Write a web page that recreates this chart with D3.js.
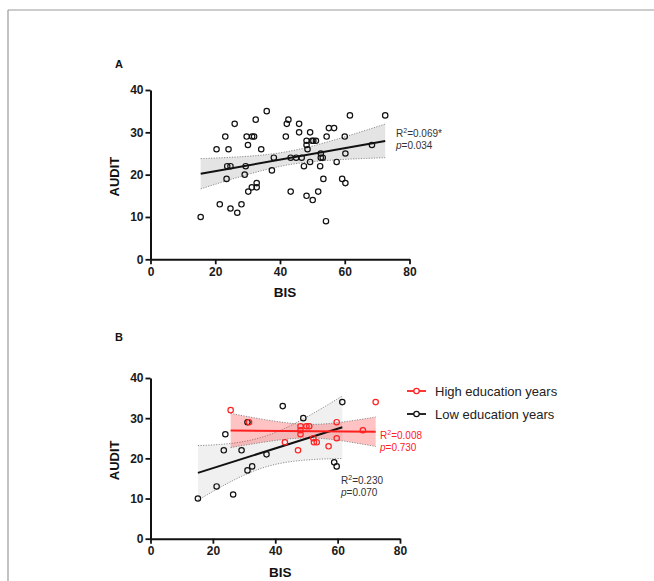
<!DOCTYPE html>
<html><head><meta charset="utf-8">
<script src="https://cdn.jsdelivr.net/npm/d3@7"></script>
<style>
html,body{margin:0;padding:0;background:#fff;}
svg{display:block;font-family:"Liberation Sans",Arial,Helvetica,sans-serif;}
</style></head>
<body>
<svg id="c" width="654" height="581"></svg>
<script>
// ---- Data ----
const bisA   = [15.5,20.4,21.4,23.1,24.1,23.7,24.7,23.5,24.7,26.0,26.8,28.1,29.1,29.4,29.7,30.1,30.2,31.3,31.4,32.0,32.5,32.8,32.8,34.2,35.9,37.5,38.1,41.8,42.1,42.6,43.3,43.3,45.0,45.9,45.9,46.7,47.4,48.2,48.2,48.2,48.5,49.3,49.3,49.9,50.1,50.3,51.1,51.8,52.4,52.6,52.6,53.2,53.4,54.2,54.4,55.1,56.7,57.5,59.2,60.0,60.2,60.2,61.6,68.4,72.5];
const auditA = [10,26,13,29,26,22,22,19,12,32,11,13,20,22,29,27,16,17,29,29,33,18,17,26,35,21,24,29,32,33,16,24,24,32,30,24,22,15,28,27,26,30,23,28,14,28,28,16,22,25,24,24,19,9,29,31,31,23,19,29,25,18,34,27,34];

const bisLow    = [15.2,21.2,23.5,24.0,26.5,29.2,31.1,31.1,32.6,37.2,42.4,49.0,58.9,59.7,61.5];
const auditLow  = [10,13,22,26,11,22,29,17,18,21,33,30,19,18,34];
const bisHigh   = [25.7,31.6,43.1,47.3,48.1,48.1,48.1,50.0,50.9,52.2,52.4,53.3,57.1,59.7,59.7,68.1,72.2];
const auditHigh = [32,29,24,22,28,27,26,28,28,25,24,24,23,29,25,27,34];

const xTicks = [0,20,40,60,80];
const yTicks = [0,10,20,30,40];
const statsA    = ["0.069*", "0.034"];
const statsHigh = ["0.008", "0.730"];
const statsLow  = ["0.230", "0.070"];
const legendLabels = ["High education years", "Low education years"];

// ---- Helpers ----
const svg = d3.select("#c");
const RED = "#ff2020", BLK = "#111";

// frame lines
svg.append("line").attr("x1",8).attr("x2",654).attr("y1",10).attr("y2",10).attr("stroke","#9a9a9a").attr("stroke-width",1.2);
svg.append("line").attr("x1",8).attr("x2",8).attr("y1",10).attr("y2",581).attr("stroke","#9a9a9a").attr("stroke-width",1.2);

function fit(xs, ys, t){
  const n = xs.length, mx = d3.mean(xs), my = d3.mean(ys);
  let sxx=0, sxy=0;
  xs.forEach((x,i)=>{sxx+=(x-mx)*(x-mx); sxy+=(x-mx)*(ys[i]-my);});
  const b = sxy/sxx, a = my - b*mx;
  let sse=0; xs.forEach((x,i)=>{const r=ys[i]-(a+b*x); sse+=r*r;});
  const s = Math.sqrt(sse/(n-2));
  const x0 = d3.min(xs), x1 = d3.max(xs);
  const grid = d3.range(0,61).map(k=>x0+(x1-x0)*k/60);
  const band = grid.map(x=>{const yh=a+b*x, h=t*s*Math.sqrt(1/n+(x-mx)*(x-mx)/sxx); return {x, yh, lo:yh-h, hi:yh+h};});
  return {a,b,x0,x1,band};
}

function panel(cfg){
  const g = svg.append("g");
  const x = d3.scaleLinear().domain([0,80]).range(cfg.xr);
  const y = d3.scaleLinear().domain([0,40]).range(cfg.yr);

  // bands
  cfg.series.forEach(s=>{
    const f = s.f;
    g.append("path").datum(f.band)
      .attr("d", d3.area().x(d=>x(d.x)).y0(d=>y(d.lo)).y1(d=>y(d.hi)))
      .attr("fill", s.bandFill).attr("stroke","none");
    ["lo","hi"].forEach(k=>{
      g.append("path").datum(f.band)
        .attr("d", d3.line().x(d=>x(d.x)).y(d=>y(d[k])))
        .attr("fill","none").attr("stroke","#808080").attr("stroke-width",0.9).attr("stroke-dasharray","1.2,1.4");
    });
  });
  // axes
  const ax = g.append("g").attr("transform",`translate(0,${cfg.yr[0]})`)
    .call(d3.axisBottom(x).tickValues(xTicks).tickSize(5).tickSizeOuter(0).tickPadding(3));
  const ay = g.append("g").attr("transform",`translate(${cfg.xr[0]},0)`)
    .call(d3.axisLeft(y).tickValues(yTicks).tickSize(5).tickSizeOuter(0).tickPadding(2));
  [ax,ay].forEach(a=>{
    a.select(".domain").attr("stroke","#111").attr("stroke-width",2);
    a.selectAll(".tick line").attr("stroke","#111").attr("stroke-width",1.8);
    a.selectAll(".tick text").attr("fill","#1a1a1a").attr("font-size",12).attr("font-weight","bold").attr("font-family","Liberation Sans, Arial, sans-serif");
  });
  // fit lines
  cfg.series.forEach(s=>{
    const f = s.f;
    g.append("line").attr("x1",x(f.x0)).attr("x2",x(f.x1))
      .attr("y1",y(f.a+f.b*f.x0)).attr("y2",y(f.a+f.b*f.x1))
      .attr("stroke",s.color).attr("stroke-width",2);
  });
  // points
  cfg.series.forEach(s=>{
    g.selectAll(null).data(s.xs.map((v,i)=>[v,s.ys[i]])).enter().append("circle")
      .attr("cx",d=>x(d[0])).attr("cy",d=>y(d[1])).attr("r",2.7)
      .attr("fill","none").attr("stroke",s.color).attr("stroke-width",1.2);
  });
  // labels
  g.append("text").attr("x",cfg.xr[0]-36).attr("y",(cfg.yr[0]+cfg.yr[1])/2+2)
    .attr("transform",`rotate(-90,${cfg.xr[0]-36},${(cfg.yr[0]+cfg.yr[1])/2+2})`)
    .attr("text-anchor","middle").attr("dominant-baseline","central")
    .attr("font-size",13).attr("font-weight","bold").attr("fill","#111").text("AUDIT");
  g.append("text").attr("x",(cfg.xr[0]+cfg.xr[1])/2+5).attr("y",cfg.yr[0]+38)
    .attr("text-anchor","middle").attr("font-size",13.5).attr("font-weight","bold").attr("fill","#111").text("BIS");
  g.append("text").attr("x",115).attr("y",cfg.labelY).attr("font-size",11).attr("font-weight","bold").attr("fill","#111").text(cfg.label);
  return {x,y,g};
}

function stat(g, x0, yb, vals, color){
  const t1 = g.append("text").attr("x",x0).attr("y",yb).attr("font-size",10).attr("fill",color);
  t1.append("tspan").text("R");
  t1.append("tspan").attr("font-size",7).attr("dy",-4).text("2");
  t1.append("tspan").attr("dy",4).text("=" + vals[0]);
  const t2 = g.append("text").attr("x",x0).attr("y",yb+12).attr("font-size",10).attr("fill",color);
  t2.append("tspan").attr("font-style","italic").text("p");
  t2.append("tspan").text("=" + vals[1]);
}

// Panel A
const fA = fit(bisA, auditA, 2.0);
const pA = panel({xr:[150.5,409.5], yr:[259.3,90], label:"A", labelY:68,
  series:[{xs:bisA, ys:auditA, f:fA, color:BLK, bandFill:"#e4e4e4"}]});
stat(pA.g, 396, 137, statsA, "#333");

// Panel B
const fLow = fit(bisLow, auditLow, 2.16);
const fHigh = fit(bisHigh, auditHigh, 2.131);
const pB = panel({xr:[150.5,400], yr:[538.7,378], label:"B", labelY:341,
  series:[{xs:bisLow, ys:auditLow, f:fLow, color:BLK, bandFill:"#f0f0f0"},
          {xs:bisHigh, ys:auditHigh, f:fHigh, color:RED, bandFill:"rgba(255,40,40,0.28)"}]});
stat(pB.g, 380, 439, statsHigh, RED);
stat(pB.g, 341, 484, statsLow, "#333");

// Legend
const leg = svg.append("g");
[[RED,391],[BLK,414]].forEach((d,i)=>{
  leg.append("line").attr("x1",407).attr("x2",426).attr("y1",d[1]).attr("y2",d[1]).attr("stroke",d[0]).attr("stroke-width",1.8);
  leg.append("circle").attr("cx",416.5).attr("cy",d[1]).attr("r",2.7).attr("fill","#fff").attr("stroke",d[0]).attr("stroke-width",1.2);
  leg.append("text").attr("x",435).attr("y",d[1]+4.5).attr("font-size",13).attr("fill","#222").text(legendLabels[i]);
});
</script>
</body></html>
